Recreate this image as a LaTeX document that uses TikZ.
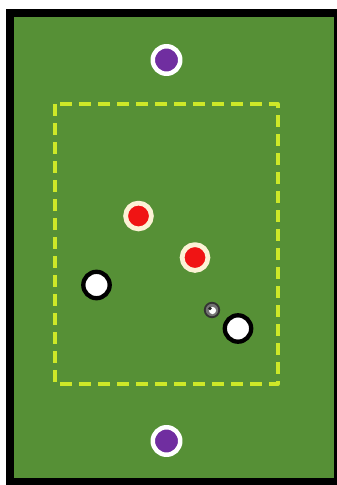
\documentclass[tikz,border=0pt]{standalone}
\usetikzlibrary{positioning}
\definecolor{pitch}{RGB}{86,144,54}
\definecolor{zoneline}{RGB}{205,232,40}
\definecolor{bibpurple}{RGB}{112,46,160}
\definecolor{bibred}{RGB}{240,20,20}
\definecolor{ringcream}{RGB}{252,242,214}
\begin{document}
\begin{tikzpicture}[
  x=1pt,
  y=-1pt,
  line cap=round,
  line join=round,
  neutral/.style={circle,draw=white,fill=bibpurple,line width=4.5pt,
    minimum size=27.5pt,inner sep=0pt},
  defender/.style={circle,draw=ringcream,fill=bibred,line width=4.8pt,
    minimum size=25.8pt,inner sep=0pt},
  attacker/.style={circle,draw=black,fill=white,line width=4.3pt,
    minimum size=26.4pt,inner sep=0pt},
  ballnode/.style={circle,draw=black!80,fill=black!55,line width=1.8pt,
    minimum size=14.5pt,inner sep=0pt,
    path picture={\fill[white] (path picture bounding box.center)
      ++(0.5pt,-0.5pt) circle[radius=3.6pt];
      \fill[black!85] (path picture bounding box.center)
      ++(-2pt,1.5pt) circle[radius=1.8pt];}},
  zone/.style={draw=zoneline,line width=4pt,line cap=butt,
    dash pattern=on 12pt off 7pt}
]
  \useasboundingbox (0,0) rectangle (337,485);
  % frame and pitch
  \fill[black] (6,9) rectangle (337,485);
  \fill[pitch] (14,17) rectangle (334,478);

  % playing zone
  \draw[zone] (55,104) rectangle (277.5,384);

  % neutral players at both ends
  \node[neutral] (ntop) at (166.5,60) {};
  \node[neutral] (nbot) at (166.5,441) {};

  % defenders
  \node[defender] (d1) at (138.5,216) {};
  \node[defender] (d2) at (195,257.5) {};

  % attackers and the ball
  \node[attacker] (a1) at (96.5,285) {};
  \node[attacker] (a2) at (238,328.5) {};
  \node[ballnode] (ball) at (212,310) {};
\end{tikzpicture}
\end{document}
